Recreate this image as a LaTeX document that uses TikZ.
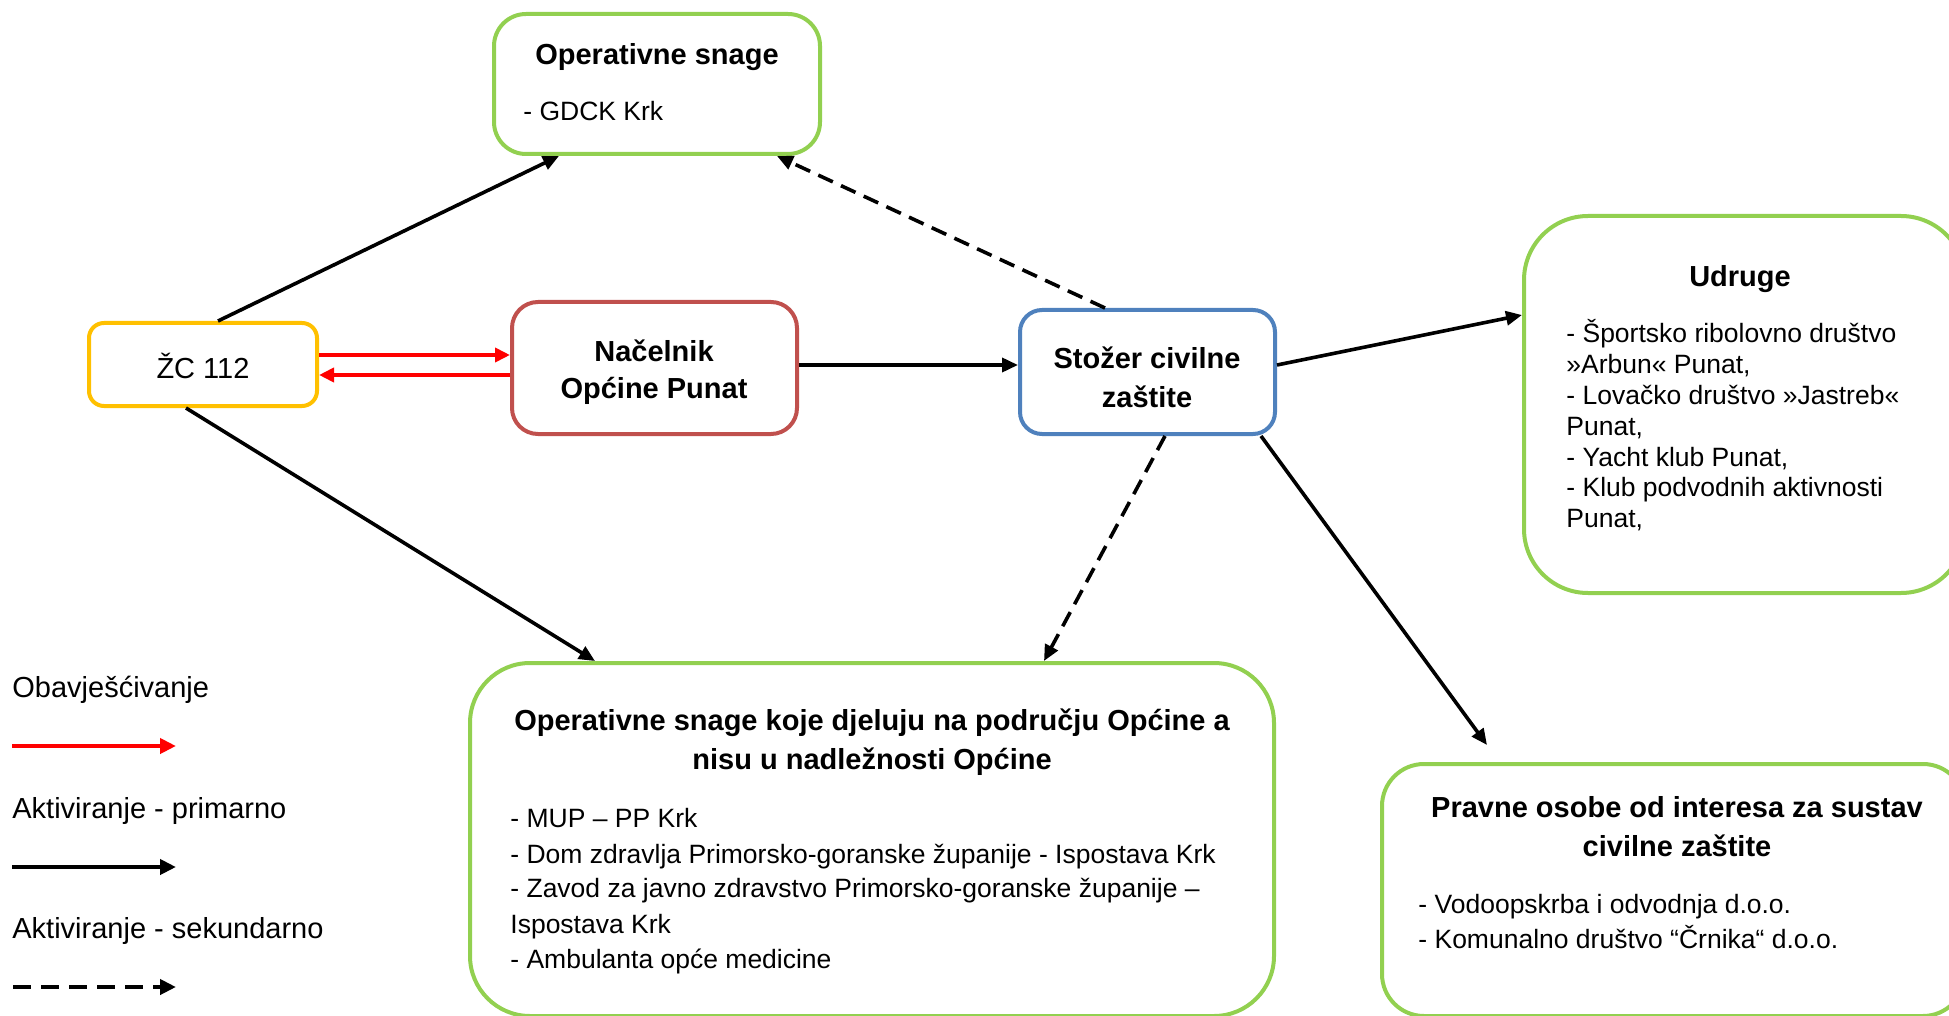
\documentclass[tikz,border=0pt]{standalone}
\usepackage{fontspec}
\setmainfont{Liberation Sans}
\usetikzlibrary{arrows.meta,calc}
\definecolor{gbox}{HTML}{92D050}
\definecolor{ybox}{HTML}{FFC000}
\definecolor{rbox}{HTML}{C0504D}
\definecolor{bbox}{HTML}{4F81BD}
\definecolor{rarrow}{HTML}{FF0000}
\begin{document}
\begin{tikzpicture}[x=0.5pt,y=-0.5pt,
  box/.style={draw, line width=2pt, fill=white, inner sep=0pt, rectangle},
  tb/.style={font=\fontsize{14.5pt}{17pt}\selectfont\bfseries, inner sep=0pt, anchor=base},
  tr/.style={font=\fontsize{13.25pt}{16pt}\selectfont, inner sep=0pt, anchor=base west},
  tl/.style={font=\fontsize{14.5pt}{17pt}\selectfont, inner sep=0pt, anchor=base west},
  prim/.style={line width=1.8pt, -{Triangle[length=8pt,width=7pt]}},
  sec/.style={line width=1.8pt, dash pattern=on 8pt off 4.5pt, -{Triangle[length=8pt,width=7pt]}},
  info/.style={line width=1.9pt, draw=rarrow, -{Triangle[length=7.5pt,width=7pt]}, color=rarrow},
  leg/.style={line width=2.1pt, -{Triangle[length=8pt,width=7.5pt]}},
  legsec/.style={line width=2.1pt, dash pattern=on 9pt off 5pt, -{Triangle[length=8pt,width=7.5pt]}}
]
\useasboundingbox (0,0) rectangle (1949,1016);

% boxes
\node[box, draw=gbox, rounded corners=16pt, minimum width=163pt, minimum height=70pt] (ops) at (657,84) {};
\node[box, draw=ybox, rounded corners=7.5pt, minimum width=114pt, minimum height=41.5pt] (zc) at (203,364.5) {};
\node[box, draw=rbox, rounded corners=13pt, minimum width=142.5pt, minimum height=66pt] (nac) at (654.5,368) {};
\node[box, draw=bbox, rounded corners=11pt, minimum width=127.5pt, minimum height=62pt] (sto) at (1147.5,372) {};
\node[box, draw=gbox, rounded corners=32pt, minimum width=220.5pt, minimum height=188.5pt] (udr) at (1744.5,404.5) {};
\node[box, draw=gbox, rounded corners=30pt, minimum width=402pt, minimum height=176.5pt] (bot) at (872,839.5) {};
\node[box, draw=gbox, rounded corners=21pt, minimum width=291.5pt, minimum height=126pt] (prv) at (1673.5,890) {};

% texts
\node[tb] (opsT) at (657,65) {Operativne snage};
\node[tr] (opsI) at (523,121) {- GDCK Krk};
\node[tl, anchor=base] (zcT) at (203,379) {ŽC 112};
\node[tb] (nacT1) at (654,361) {Načelnik};
\node[tb] (nacT2) at (654,398) {Općine Punat};
\node[tb] (stoT1) at (1147,368) {Stožer civilne};
\node[tb] (stoT2) at (1147,407) {zaštite};
\node[tb] (udrT) at (1740,286) {Udruge};
\node[tr] (udr1) at (1566,343) {- Športsko ribolovno društvo};
\node[tr] (udr2) at (1566,373) {»Arbun« Punat,};
\node[tr] (udr3) at (1566,404) {- Lovačko društvo »Jastreb«};
\node[tr] (udr4) at (1566,435) {Punat,};
\node[tr] (udr5) at (1566,466) {- Yacht klub Punat,};
\node[tr] (udr6) at (1566,496) {- Klub podvodnih aktivnosti};
\node[tr] (udr7) at (1566,527) {Punat,};
\node[tb] (botT1) at (872,730) {Operativne snage koje djeluju na području Općine a};
\node[tb] (botT2) at (872,769) {nisu u nadležnosti Općine};
\node[tr] (bot1) at (510,827) {- MUP – PP Krk};
\node[tr] (bot2) at (510,863) {- Dom zdravlja Primorsko-goranske županije - Ispostava Krk};
\node[tr] (bot3) at (510,897) {- Zavod za javno zdravstvo Primorsko-goranske županije –};
\node[tr] (bot4) at (510,933) {Ispostava Krk};
\node[tr] (bot5) at (510,968) {- Ambulanta opće medicine};
\node[tb] (prvT1) at (1677,817) {Pravne osobe od interesa za sustav};
\node[tb] (prvT2) at (1677,856) {civilne zaštite};
\node[tr] (prv1) at (1418,913) {- Vodoopskrba i odvodnja d.o.o.};
\node[tr] (prv2) at (1418,948) {- Komunalno društvo “Črnika“ d.o.o.};

% legend
\node[tl] (legA) at (12,697) {Obavješćivanje};
\node[tl] (legB) at (12,818) {Aktiviranje - primarno};
\node[tl] (legC) at (12,938) {Aktiviranje - sekundarno};
\coordinate (l1a) at (12,746); \coordinate (l1b) at (176,746);
\coordinate (l2a) at (12,867); \coordinate (l2b) at (176,867);
\coordinate (l3a) at (13,987); \coordinate (l3b) at (176,987);
\draw[leg, draw=rarrow, color=rarrow] (l1a) -- (l1b);
\draw[leg] (l2a) -- (l2b);
\draw[legsec] (l3a) -- (l3b);

% connectors
\draw[prim] ($(zc.north west)+(131,0)$) -- ($(ops.south west)+(67,0)$);
\draw[sec] ($(sto.north west)+(87,0)$) -- ($(ops.south west)+(285,0)$);
\draw[info] ($(zc.north east)+(0,34)$) -- ($(nac.north west)+(0,55)$);
\draw[info] ($(nac.north west)+(0,75)$) -- ($(zc.north east)+(0,54)$);
\draw[prim] ($(nac.north east)+(0,65)$) -- ($(sto.north west)+(0,57)$);
\draw[prim] ($(sto.north east)+(0,57)$) -- ($(udr.north west)+(0,101)$);
\draw[prim] ($(zc.south west)+(99,0)$) -- ($(bot.north west)+(127,0)$);
\draw[sec] ($(sto.south west)+(147,0)$) -- ($(bot.north west)+(576,0)$);
\coordinate (prvtip) at (1487,745);
\draw[prim] ($(sto.south west)+(243,0)$) -- (prvtip);
\end{tikzpicture}
\end{document}
